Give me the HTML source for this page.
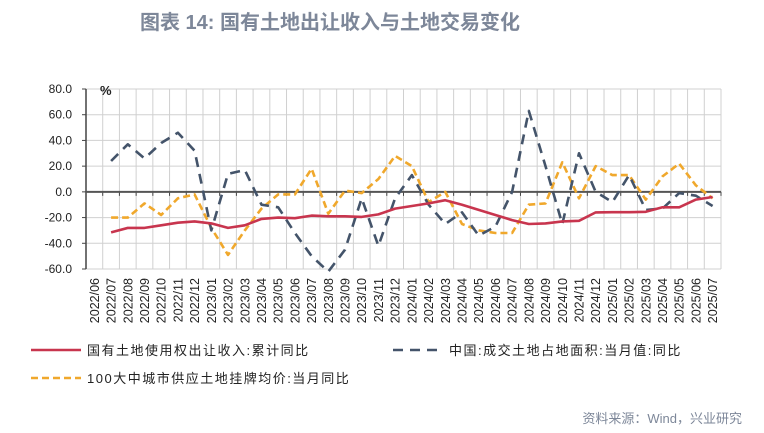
<!DOCTYPE html>
<html><head><meta charset="utf-8"><style>
body{margin:0;width:764px;height:433px;background:#fff;overflow:hidden;font-family:"Liberation Sans","Noto Sans CJK SC",sans-serif}
#title{position:absolute;width:764px;top:6px;text-align:center;font-size:20px;font-weight:bold;color:#7d8799}
#src{position:absolute;right:22px;top:408px;font-size:13px;color:#7d8799}
</style></head><body>
<div id="title" style="left:-52px">图表 14: 国有土地出让收入与土地交易变化</div>
<svg id="chart" width="764" height="433" style="position:absolute;left:0;top:0"></svg>
<div id="src">资料来源：Wind，兴业研究</div>
<script>
const categories=["2022/06","2022/07","2022/08","2022/09","2022/10","2022/11","2022/12","2023/01","2023/02","2023/03","2023/04","2023/05","2023/06","2023/07","2023/08","2023/09","2023/10","2023/11","2023/12","2024/01","2024/02","2024/03","2024/04","2024/05","2024/06","2024/07","2024/08","2024/09","2024/10","2024/11","2024/12","2025/01","2025/02","2025/03","2025/04","2025/05","2025/06","2025/07"];
const revenue=[null,-31.5,-28,-28,-26,-24,-23,-24.5,-28,-26,-21,-20,-20.5,-18.5,-19,-19,-19.5,-17.5,-13,-11,-9,-6.5,-10,-14,-18,-22,-25,-24.5,-23,-22.5,-16,-15.8,-15.8,-15.5,-12,-12,-6,-4];
const area=[null,24,37,26,38,46,32,-30,14,17,-10,-12,-32,-50,-62,-45,-5,-42,-5,13,-10,-25,-16,-34,-27,0,63,20,-25,30,0,-8,13,-14,-13,-1,-3,-11];
const price=[null,-20,-20,-9,-18,-5,-2,-28,-49,-30,-13,-2,-2,18,-17,1,-1,10,28,20,-8,0,-25,-30,-32,-32,-10,-9,23,-5,20,13,13,-6,12,22,5,-5];
const yTicks=[80,60,40,20,0,-20,-40,-60];
const NS="http://www.w3.org/2000/svg",svg=document.getElementById('chart');
const X0=86,X1=721,Y0=89,Y1=269;
const band=(X1-X0)/categories.length;
const x=i=>X0+band*(i+0.5);
const y=v=>Y0+(80-v)/140*(Y1-Y0);
function el(t,a){const e=document.createElementNS(NS,t);for(const k in a)e.setAttribute(k,a[k]);svg.appendChild(e);return e;}
yTicks.forEach(v=>{const l=el('line',{x1:X0,x2:X1,y1:y(v),y2:y(v),stroke:'#d0d0d0','stroke-width':1});


const t=el('text',{x:X0-14,y:y(v)+4,'text-anchor':'end','font-size':12,fill:'#222'});t.textContent=v.toFixed(1);


el('line',{x1:X0-4,x2:X0,y1:y(v),y2:y(v),stroke:'#444'});});
for(let i=0;i<=categories.length;i++){const gx=X0+band*i;const g=el('line',{x1:gx,x2:gx,y1:Y0,y2:Y1,stroke:'#d0d0d0'});


el('line',{x1:gx,x2:gx,y1:y(0),y2:y(0)+4,stroke:'#444'});}
const ax=el('line',{x1:X0,x2:X0,y1:Y0,y2:Y1,stroke:'#444','stroke-width':1.5});


const zx=el('line',{x1:X0,x2:X1,y1:y(0),y2:y(0),stroke:'#555','stroke-width':2});


const pct=el('text',{x:100,y:95,'font-size':13,'font-weight':'bold',fill:'#222'});pct.textContent='%';


categories.forEach((c,i)=>{const t=el('text',{x:0,y:0,'font-size':12.5,fill:'#222','text-anchor':'end',transform:`translate(${x(i)+4.5},278) rotate(-90)`});t.textContent=c;

});
function series(d,color,dash,name){let p='';d.forEach((v,i)=>{if(v==null)return;p+=(p?'L':'M')+x(i).toFixed(1)+','+y(v).toFixed(1);});
const s=el('path',{d:p,fill:'none',stroke:color,'stroke-width':2.6,'stroke-dasharray':dash||'none','stroke-linejoin':'round'});

}
series(price,'#f0a82c','7,4','series-land-price');
series(area,'#44546a','10,7','series-land-area');
series(revenue,'#c8354e','','series-land-revenue');
function leg(x1,yy,color,dash,txt,name){const g=el('g',{});
const l=document.createElementNS(NS,'line');[['x1',x1],['x2',x1+50],['y1',yy],['y2',yy],['stroke',color],['stroke-width',2.6],['stroke-dasharray',dash]].forEach(a=>l.setAttribute(a[0],a[1]));g.appendChild(l);
const t=document.createElementNS(NS,'text');t.setAttribute('x',x1+56);t.setAttribute('y',yy+5);t.setAttribute('font-size',13);t.setAttribute('fill','#222');t.setAttribute('letter-spacing','1.5');t.textContent=txt;g.appendChild(t);}
leg(31,350,'#c8354e','none','国有土地使用权出让收入:累计同比','legend-entry-revenue');
leg(393,350,'#44546a','10,7','中国:成交土地占地面积:当月值:同比','legend-entry-area');
leg(31,378,'#f0a82c','7,4','100大中城市供应土地挂牌均价:当月同比','legend-entry-price');
</script>
</body></html>
